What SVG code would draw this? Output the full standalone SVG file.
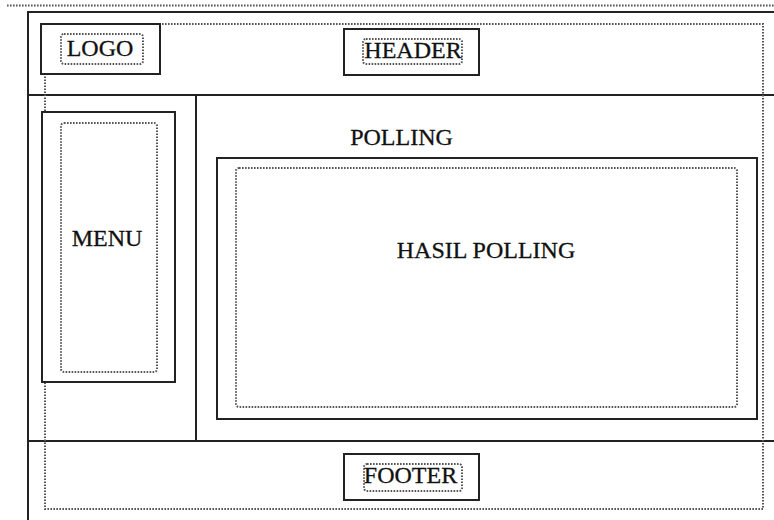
<svg xmlns="http://www.w3.org/2000/svg" width="774" height="520" viewBox="0 0 774 520">
<style>
.solid{fill:none;stroke:#222;stroke-width:2}
.box{fill:#fff;stroke:#222;stroke-width:2}
.dot{fill:none;stroke:#555;stroke-width:2;stroke-dasharray:1.6 1.4}
.lbl{font-family:"Liberation Serif","Times New Roman",serif;font-size:24px;fill:#111;stroke:#111;stroke-width:0.3;text-anchor:middle}
</style>
<rect width="774" height="520" fill="#fff"/>
<g id="frame">
<line x1="7" y1="5.5" x2="774" y2="5.5" class="dot"/>
<path d="M28 520 V12 H774" class="solid"/>
<line x1="28" y1="95" x2="774" y2="95" class="solid"/>
<line x1="28" y1="441" x2="774" y2="441" class="solid"/>
<line x1="196" y1="95" x2="196" y2="441" class="solid"/>
<rect x="45" y="24" width="718" height="485" class="dot"/>
</g>
<g id="logo">
<rect x="41" y="24" width="119" height="50" class="box"/>
<rect x="61" y="34" width="82" height="30" rx="3" class="dot"/>
<text x="100" y="56" class="lbl">LOGO</text>
</g>
<g id="header">
<rect x="344" y="29" width="135" height="46" class="box"/>
<rect x="363" y="39" width="99" height="25" rx="3" class="dot"/>
<text x="413" y="58" class="lbl">HEADER</text>
</g>
<g id="menu">
<rect x="42" y="112" width="133" height="270" class="box"/>
<rect x="61" y="123" width="96" height="249" rx="3" class="dot"/>
<text x="107" y="246" class="lbl">MENU</text>
</g>
<g id="polling">
<text x="401.5" y="145" class="lbl">POLLING</text>
<rect x="217" y="158" width="540" height="261" class="box"/>
</g>
<g id="hasil-polling">
<rect x="236" y="168" width="501" height="239" rx="3" class="dot"/>
<text x="486" y="258" class="lbl">HASIL POLLING</text>
</g>
<g id="footer">
<rect x="344" y="454" width="135" height="46" class="box"/>
<rect x="364" y="464" width="98" height="27" rx="3" class="dot"/>
<text x="410.5" y="483" class="lbl">FOOTER</text>
</g>
<g id="connectors"/>
</svg>
